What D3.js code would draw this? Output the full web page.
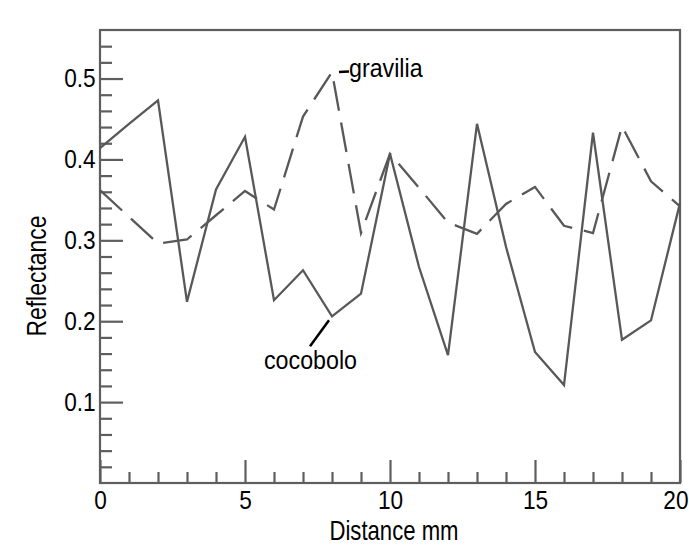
<!DOCTYPE html>
<html>
<head>
<meta charset="utf-8">
<script src="https://cdn.jsdelivr.net/npm/d3@7"></script>
<style>
  body { margin: 0; background: #fff; }
  svg { display: block; font-family: "Liberation Sans", Arial, sans-serif; }
</style>
</head>
<body>
<div id="chart"></div>
<script>
// Data (reflectance at each mm)
const distance = d3.range(0, 21);
const cocobolo = [0.414, 0.444, 0.473, 0.224, 0.363, 0.428, 0.226, 0.263, 0.206, 0.234,
                  0.407, 0.267, 0.158, 0.444, 0.292, 0.162, 0.121, 0.433, 0.177, 0.201, 0.346];
const gravilia = [0.362, 0.329, 0.296, 0.301, 0.331, 0.361, 0.338, 0.453, 0.508, 0.309,
                  0.407, 0.365, 0.322, 0.308, 0.345, 0.366, 0.318, 0.309, 0.441, 0.373, 0.342];
const xMajor = [0, 5, 10, 15, 20];
const yMajor = [0.1, 0.2, 0.3, 0.4, 0.5];
const yMinor = d3.range(0.02, 0.56, 0.02);

const width = 689;
const height = 545;
const margin = { top: 30, right: 9, bottom: 62, left: 100 };
const lineColor = "#585858";

const svg = d3.select("#chart").append("svg")
  .attr("width", width)
  .attr("height", height);

const x = d3.scaleLinear()
  .domain([0, 20])
  .range([margin.left, width - margin.right]);

const y = d3.scaleLinear()
  .domain([0, 0.56])
  .range([height - margin.bottom, margin.top]);

// Frame
svg.append("rect")
  .attr("x", x(0))
  .attr("y", y(0.56))
  .attr("width", x(20) - x(0))
  .attr("height", y(0) - y(0.56))
  .attr("fill", "none")
  .attr("stroke", "#5e5e5e")
  .attr("stroke-width", 2.2);

// Minor ticks (inward)
svg.append("g")
  .attr("transform", `translate(0,${y(0)})`)
  .call(d3.axisBottom(x).tickValues(distance.filter(d => d % 5 !== 0)).tickSize(-11).tickFormat(""))
  .call(g => g.select(".domain").remove());

svg.append("g")
  .attr("transform", `translate(${x(0)},0)`)
  .call(d3.axisLeft(y).tickValues(yMinor.filter(v => Math.round(v * 100) % 10 !== 0)).tickSize(-12).tickFormat(""))
  .call(g => g.select(".domain").remove());

// Major ticks with labels
svg.append("g")
  .attr("class", "xaxis")
  .attr("transform", `translate(0,${y(0)})`)
  .call(d3.axisBottom(x).tickValues(xMajor).tickSize(-23).tickPadding(8).tickFormat(d3.format("d")))
  .call(g => g.select(".domain").remove());

svg.append("g")
  .attr("class", "yaxis")
  .attr("transform", `translate(${x(0)},0)`)
  .call(d3.axisLeft(y).tickValues(yMajor).tickSize(-23).tickPadding(5).tickFormat(d3.format(".1f")))
  .call(g => g.select(".domain").remove());

svg.selectAll(".tick line")
  .attr("stroke", "#5e5e5e")
  .attr("stroke-width", 2.2);

svg.selectAll(".xaxis text, .yaxis text")
  .attr("fill", "#000")
  .style("font-size", "26px")
  .style("font-family", "Liberation Sans, Arial, sans-serif")
  .attr("transform", "scale(0.87,1)");

// last x label sits against the right edge
svg.selectAll(".xaxis text")
  .filter(d => d === 20)
  .attr("text-anchor", "end")
  .attr("x", (width - 1 - x(20)) / 0.87);

// Lines
const line = d3.line()
  .x((d, i) => x(distance[i]))
  .y(d => y(d));

svg.append("path")
  .datum(cocobolo)
  .attr("fill", "none")
  .attr("stroke", lineColor)
  .attr("stroke-width", 2.3)
  .attr("stroke-linejoin", "miter")
  .attr("d", line);

svg.append("path")
  .datum(gravilia)
  .attr("fill", "none")
  .attr("stroke", lineColor)
  .attr("stroke-width", 2.3)
  .attr("stroke-dasharray", "30,12")
  .attr("d", line);

// Series labels with leader lines
function label(txt, tx, ty, fs, sx) {
  svg.append("text")
    .attr("transform", `translate(${tx},${ty}) scale(${sx},1)`)
    .style("font-size", fs + "px")
    .attr("fill", "#000")
    .text(txt);
}

svg.append("line")
  .attr("x1", x(8) + 7).attr("y1", y(gravilia[8]))
  .attr("x2", x(8) + 17).attr("y2", y(gravilia[8]) - 0.5)
  .attr("stroke", "#000").attr("stroke-width", 2.5);
label("gravilia", 349, 77, 25, 0.93);

svg.append("line")
  .attr("x1", x(8) - 3).attr("y1", y(cocobolo[8]) + 4)
  .attr("x2", x(8) - 22).attr("y2", y(cocobolo[8]) + 30)
  .attr("stroke", "#000").attr("stroke-width", 2.5);
label("cocobolo", 264, 369, 25, 0.93);

// Axis titles
svg.append("text")
  .attr("transform", `translate(394,540) scale(0.82,1)`)
  .attr("text-anchor", "middle")
  .style("font-size", "27px")
  .attr("fill", "#000")
  .text("Distance mm");

svg.append("text")
  .attr("transform", `translate(46,276) rotate(-90) scale(0.85,1)`)
  .attr("text-anchor", "middle")
  .style("font-size", "27px")
  .attr("fill", "#000")
  .text("Reflectance");
</script>
</body>
</html>
